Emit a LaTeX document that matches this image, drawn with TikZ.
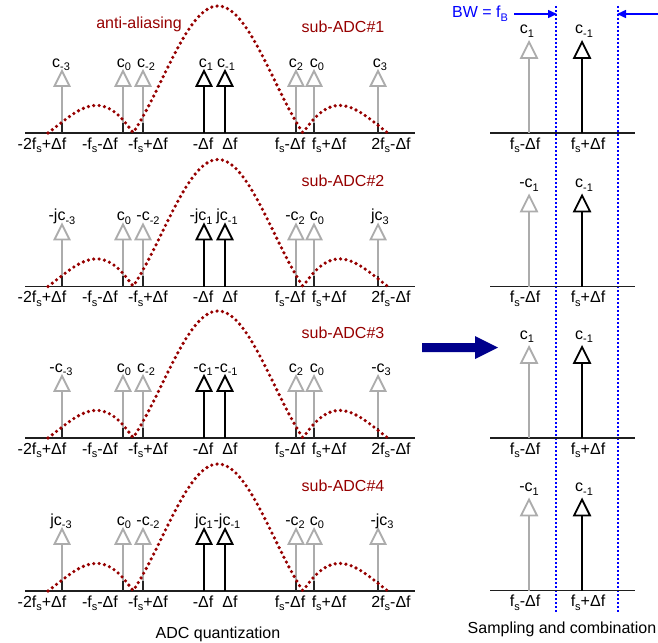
\documentclass[tikz,border=0pt]{standalone}
\usepackage{fontspec}
\setmainfont{Liberation Sans}
\usetikzlibrary{arrows.meta}
\definecolor{aared}{RGB}{150,0,0}
\definecolor{bignavy}{RGB}{0,0,140}
\definecolor{lgray}{RGB}{172,172,172}
\definecolor{bwblue}{RGB}{0,0,255}
\newcommand{\sbs}[1]{\raisebox{-0.24em}{\fontsize{11}{11}\selectfont #1}}
\tikzset{
  lbl/.style={font=\fontsize{16}{18}\selectfont, inner sep=0pt, anchor=base},
  axisline/.style={line width=1.7pt, black!88},
  aacurve/.style={aared, line width=3.6pt, line cap=round, dash pattern=on 0pt off 5.4pt},
  grayarrow/.style={lgray, line width=2pt},
  blackarrow/.style={black, line width=2pt},
  tri/.style={line width=1.8pt, fill=white, line join=miter},
  basetick/.style={black!85, line width=2pt},
  bwline/.style={bwblue, line width=2.6pt, dash pattern=on 2.2pt off 1.8pt},
  bwarrow/.style={bwblue, line width=1.5pt, -{Triangle[length=9pt,width=8pt]}},
}
\newcommand{\leftpanel}[2]{%
  \draw[axisline] (25,#1) -- (415,#1);
  \foreach \x in {62,123,143,296,314,378} {
    \draw[grayarrow] (\x,#1) -- (\x,#1-47);
    \draw[grayarrow,tri] (\x-7.5,#1-47) -- (\x,#1-62) -- (\x+7.5,#1-47) -- cycle;
    \draw[basetick] (\x,#1) -- (\x,#1-10.5);
  }
  \foreach \x in {204,225} {
    \draw[blackarrow] (\x,#1) -- (\x,#1-47);
    \draw[blackarrow,tri] (\x-7.5,#1-47) -- (\x,#1-62) -- (\x+7.5,#1-47) -- cycle;
  }
  \draw[aacurve] plot[domain=-2:2, samples=200, variable=\u]
    ({218+85*\u},{#1-127*abs(sin(180*\u)/(3.14159*\u))});
  \foreach \x/\t [count=\i] in {42/{-2f\sbs{s}+Δf}, 100/{-f\sbs{s}-Δf}, 148/{-f\sbs{s}+Δf},
      203/{-Δf}, 230/{Δf}, 290/{f\sbs{s}-Δf}, 329/{f\sbs{s}+Δf}, 391/{2f\sbs{s}-Δf}}
    \node[lbl] (tl#2-\i) at (\x,#1+16) {\t};
  \node[lbl, text=aared] (sub#2) at (343,#1-100) {sub-ADC\##2};
}
\newcommand{\rightpanel}[4]{%
  \draw[axisline] (490,#1) -- (635,#1);
  \draw[grayarrow] (529,#1) -- (529,#1-75);
  \draw[grayarrow,tri] (521,#1-75) -- (529,#1-91) -- (537,#1-75) -- cycle;
  \draw[blackarrow] (582,#1) -- (582,#1-75);
  \draw[blackarrow,tri] (574,#1-75) -- (582,#1-91) -- (590,#1-75) -- cycle;
  \node[lbl] (rl#2-1) at (#3,#1-99) {#4};
  \node[lbl] (rl#2-2) at (584,#1-99) {c\sbs{-1}};
  \node[lbl] (rt#2-1) at (525,#1+16) {f\sbs{s}-Δf};
  \node[lbl] (rt#2-2) at (588,#1+16) {f\sbs{s}+Δf};
}
\begin{document}
\begin{tikzpicture}[x=1pt,y=-1pt]
\useasboundingbox (0,0) rectangle (658,642);
% left panels
\leftpanel{133}{1}
\leftpanel{286.5}{2}
\leftpanel{438}{3}
\leftpanel{591}{4}
\node[lbl, text=aared] (aa) at (139,29) {anti-aliasing};
% labels above arrows
\foreach \x/\t [count=\i] in {61/{c\sbs{-3}}, 124/{c\sbs{0}}, 146/{c\sbs{-2}}, 206/{c\sbs{1}},
    226/{c\sbs{-1}}, 296/{c\sbs{2}}, 317/{c\sbs{0}}, 380/{c\sbs{3}}}
  \node[lbl] (a1-\i) at (\x,67) {\t};
\foreach \x/\t [count=\i] in {62/{-jc\sbs{-3}}, 124/{c\sbs{0}}, 148/{-c\sbs{-2}}, 201/{-jc\sbs{1}},
    227/{jc\sbs{-1}}, 295/{-c\sbs{2}}, 317/{c\sbs{0}}, 380/{jc\sbs{3}}}
  \node[lbl] (a2-\i) at (\x,220.5) {\t};
\foreach \x/\t [count=\i] in {61/{-c\sbs{-3}}, 124/{c\sbs{0}}, 146/{c\sbs{-2}}, 203/{-c\sbs{1}},
    226/{-c\sbs{-1}}, 296/{c\sbs{2}}, 317/{c\sbs{0}}, 381/{-c\sbs{3}}}
  \node[lbl] (a3-\i) at (\x,372) {\t};
\foreach \x/\t [count=\i] in {61/{jc\sbs{-3}}, 124/{c\sbs{0}}, 148/{-c\sbs{-2}}, 204/{jc\sbs{1}},
    227/{-jc\sbs{-1}}, 295/{-c\sbs{2}}, 317/{c\sbs{0}}, 382/{-jc\sbs{3}}}
  \node[lbl] (a4-\i) at (\x,525) {\t};
% right panels
\draw[bwline] (556,6) -- (556,612);
\draw[bwline] (618,6) -- (618,612);
\rightpanel{133}{1}{527}{c\sbs{1}}
\rightpanel{286.5}{2}{529}{-c\sbs{1}}
\rightpanel{438}{3}{527}{c\sbs{1}}
\rightpanel{590.5}{4}{529}{-c\sbs{1}}
% bandwidth markers
\node[lbl, text=bwblue] (bw) at (480,18) {BW = f\sbs{B}};
\coordinate (bwL) at (557,14);
\coordinate (bwR) at (617,14);
\coordinate (bwRs) at (658,14);
\draw[bwarrow] ([xshift=6pt]bw.east |- bwL) -- (bwL);
\draw[bwarrow] (bwRs) -- (bwR);
% big arrow
\fill[bignavy] (422,343) -- (475,343) -- (475,336) -- (498,347.5) -- (475,359) -- (475,352) -- (422,352) -- cycle;
% captions
\node[lbl] (capL) at (218,638) {ADC quantization};
\node[lbl] (capR) at (562,633) {Sampling and combination};
\end{tikzpicture}
\end{document}
